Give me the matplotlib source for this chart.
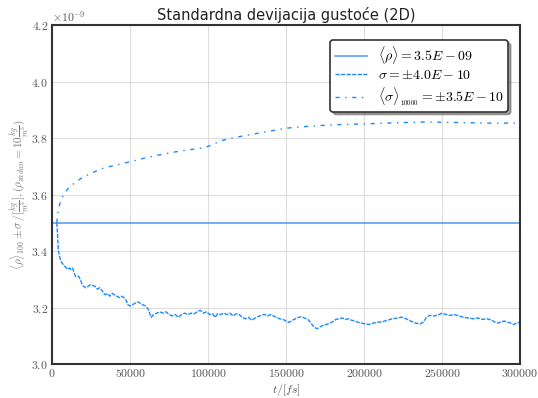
import matplotlib
matplotlib.use("Agg")
import matplotlib.pyplot as plt
import numpy as np
from matplotlib.ticker import FuncFormatter, MultipleLocator

plt.rcParams['mathtext.fontset'] = 'cm'
plt.rcParams['font.family'] = ['cmr10', 'DejaVu Serif']
plt.rcParams['axes.formatter.use_mathtext'] = True

# --- data (values in units of 1e-9) ---
mean_value = 3.5

t_sigma = [3000, 3500, 4000, 5000, 6000, 7500, 9000, 10000, 11000, 12000, 13000, 14000,
           15000, 17000, 18000, 19000, 20000, 21500, 23000, 24500, 26000, 27500, 29000,
           30500, 32000, 33000, 34000, 35500, 37000, 38500, 40000, 41500, 43000, 44500,
           46000, 47500, 48500, 50000, 51500, 53000, 55000, 56500, 58000, 60000, 61500,
           62500, 63500, 65000, 67000, 69000, 71000, 73000, 75000, 77000, 79000, 81000,
           83000, 85000, 87000, 89000, 91000, 93000, 95000, 97000, 99000, 101000, 103000,
           104500, 106000, 108000, 110000, 112000, 114000, 116000, 118000, 120000, 122000,
           124000, 126000, 128000, 130000, 132000, 134000, 136000, 138000, 140000, 142000,
           144000, 146000, 148000, 150000, 152000, 154000, 156000, 158000, 160000, 162000,
           164000, 166000, 168000, 170000, 172000, 174000, 176000, 178000, 180000, 182000,
           184000, 186000, 188000, 190000, 192000, 194000, 196000, 198000, 200000, 203000,
           206000, 209000, 212000, 215000, 218000, 221000, 224000, 227000, 230000, 233000,
           236000, 238000, 240000, 242000, 245000, 248000, 250000, 252000, 255000, 258000,
           261000, 264000, 267000, 270000, 273000, 276000, 279000, 282000, 284000, 286000,
           288000, 290000, 292000, 294000, 296000, 298000, 300000]
sigma_vals = [3.50, 3.45, 3.40, 3.375, 3.36, 3.35, 3.34, 3.335, 3.34, 3.335, 3.34, 3.325,
              3.31, 3.31, 3.30, 3.285, 3.275, 3.27, 3.275, 3.28, 3.278, 3.275, 3.265,
              3.27, 3.26, 3.25, 3.245, 3.25, 3.24, 3.25, 3.245, 3.24, 3.235, 3.24,
              3.235, 3.225, 3.21, 3.205, 3.21, 3.215, 3.22, 3.215, 3.21, 3.205, 3.195,
              3.18, 3.165, 3.175, 3.18, 3.185, 3.18, 3.185, 3.175, 3.17, 3.175, 3.165,
              3.175, 3.18, 3.175, 3.18, 3.178, 3.185, 3.19, 3.18, 3.185, 3.175, 3.178,
              3.165, 3.178, 3.175, 3.18, 3.175, 3.18, 3.17, 3.178, 3.175, 3.165,
              3.16, 3.165, 3.155, 3.162, 3.168, 3.172, 3.176, 3.17, 3.175, 3.17,
              3.165, 3.16, 3.158, 3.152, 3.147, 3.155, 3.16, 3.165, 3.168, 3.162,
              3.158, 3.145, 3.13, 3.125, 3.132, 3.138, 3.14, 3.145, 3.15, 3.158,
              3.16, 3.163, 3.158, 3.16, 3.155, 3.152, 3.148, 3.145, 3.143, 3.14,
              3.145, 3.148, 3.15, 3.155, 3.16, 3.162, 3.166, 3.16, 3.152, 3.145,
              3.142, 3.148, 3.165, 3.172, 3.17, 3.175, 3.18, 3.176, 3.172, 3.175,
              3.17, 3.165, 3.163, 3.16, 3.163, 3.158, 3.16, 3.155, 3.148, 3.145,
              3.15, 3.152, 3.148, 3.145, 3.14, 3.145, 3.148]

t_avg = [3000, 3500, 4500, 6000, 8000, 10000, 13000, 16000, 20000, 25000, 30000, 35000,
         40000, 45000, 50000, 60000, 70000, 80000, 90000, 98000, 102000, 108000, 115000,
         125000, 135000, 150000, 165000, 180000, 200000, 220000, 240000, 250000, 260000,
         280000, 300000]
avg_vals = [3.50, 3.53, 3.56, 3.585, 3.605, 3.62, 3.635, 3.648, 3.662, 3.675, 3.688, 3.697,
            3.703, 3.71, 3.716, 3.73, 3.742, 3.752, 3.76, 3.766, 3.775, 3.79, 3.80,
            3.81, 3.82, 3.835, 3.842, 3.847, 3.85, 3.854, 3.857, 3.856, 3.855,
            3.853, 3.853]

labels = [r'$\langle\rho\rangle = 3.5E-09$',
          r'$\sigma = \pm4.0E-10$',
          r'$\langle\sigma\rangle_{_{10000}} = \pm3.5E-10$']

color = '#1e88ff'

fig = plt.figure(figsize=(5.38, 3.98), dpi=100)
ax = fig.add_axes([0.097, 0.0854, 0.8695, 0.8516])

scale = 1e-9
ax.axhline(mean_value * scale, color='#4a9af0', lw=1.1, label=labels[0])
ax.plot(t_sigma, np.array(sigma_vals) * scale, color=color, lw=1.0, ls='--',
        dashes=(3, 1), label=labels[1])
ax.plot(t_avg, np.array(avg_vals) * scale, color=color, lw=1.0, ls='-.',
        dashes=(3, 4, 1, 4), label=labels[2])

ax.set_xlim(0, 300000)
ax.set_ylim(3.0e-9, 4.2e-9)
ax.xaxis.set_major_locator(MultipleLocator(50000))
ax.yaxis.set_major_locator(MultipleLocator(0.2e-9))
ax.xaxis.set_major_formatter(FuncFormatter(lambda v, p: r'$%d$' % v))
ax.yaxis.set_major_formatter(FuncFormatter(lambda v, p: r'$%.1f$' % (v / scale)))
ax.text(0.0, 1.003, r'$\times10^{-9}$', transform=ax.transAxes, fontsize=8.5,
        color='#555555', ha='left', va='bottom')

ax.grid(True, color='#dddddd', lw=0.8)
ax.set_axisbelow(True)
for s in ax.spines.values():
    s.set_color('#333333')
    s.set_linewidth(1.5)
ax.tick_params(length=0, labelsize=8.5, labelcolor='#555555')
ax.tick_params(axis='x', pad=2)
ax.tick_params(axis='y', pad=3)

ax.set_title('Standardna devijacija gustoće (2D)', fontsize=10.5,
             fontfamily='DejaVu Sans', color='#222222', pad=4)
ax.set_xlabel(r'$t/[fs]$', fontsize=8.5, color='#555555')
ax.xaxis.set_label_coords(0.5, -0.052)
ax.set_ylabel(r'$\langle\rho\rangle_{100} \pm \sigma\,/[\frac{kg}{m^3}], (\rho_{zadan} = 10\frac{kg}{m^3})$',
              fontsize=8, color='#777777')
ax.yaxis.set_label_coords(-0.046, 0.5)

leg = ax.legend(loc='upper right', fontsize=10, frameon=True, fancybox=True,
                shadow=True, framealpha=1, borderpad=0.3, labelspacing=0.2,
                handlelength=2.3, bbox_to_anchor=(0.989, 0.976))
leg.get_frame().set_edgecolor('#333333')
leg.get_frame().set_linewidth(1.2)

fig.savefig('out.png', dpi=100)
